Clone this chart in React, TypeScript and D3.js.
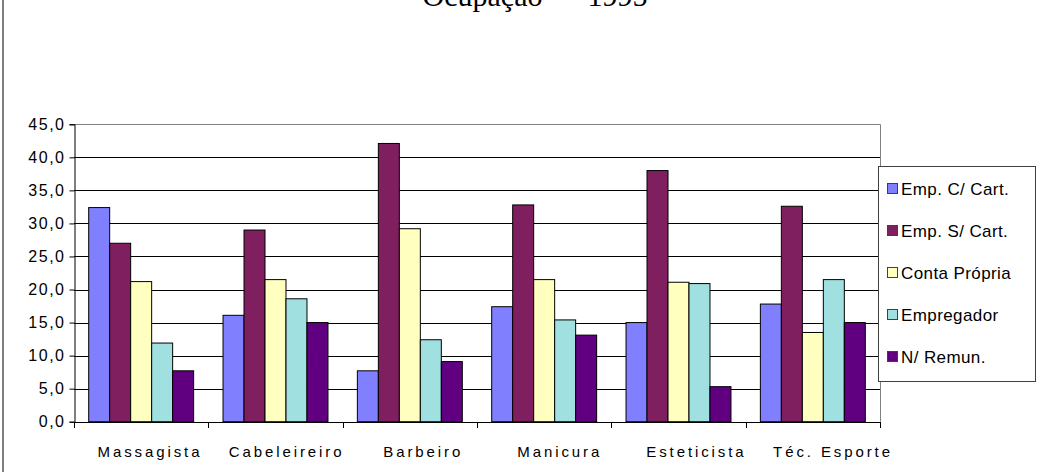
import { useRef, useEffect } from "react";
import * as d3 from "d3";

const categories = ["Massagista", "Cabeleireiro", "Barbeiro", "Manicura", "Esteticista", "Téc. Esporte"];
const seriesNames = ["Emp. C/ Cart.", "Emp. S/ Cart.", "Conta Própria", "Empregador", "N/ Remun."];
const seriesColors = ["#8080ff", "#7f1f5f", "#ffffc0", "#a0e0e0", "#600080"];
// one array per series, in category order
const empComCart = [32.4, 16.1, 7.7, 17.4, 15.0, 17.8];
const empSemCart = [27.0, 29.0, 42.1, 32.8, 38.0, 32.6];
const contaPropria = [21.2, 21.5, 29.2, 21.5, 21.1, 13.5];
const empregador = [11.9, 18.6, 12.4, 15.4, 20.9, 21.5];
const naoRemun = [7.7, 15.0, 9.1, 13.1, 5.3, 15.0];
const yTicks = [0, 5, 10, 15, 20, 25, 30, 35, 40, 45];
const title = "Ocupação — 1995";

const W = 1057;
const H = 472;

export default function App() {
    const svgRef = useRef<SVGSVGElement>(null);

    useEffect(() => {
        if (!svgRef.current) return;
        const svg = d3.select(svgRef.current);
        svg.selectAll("*").remove();

        const values = [empComCart, empSemCart, contaPropria, empregador, naoRemun];
        const plot = { left: 74, right: 880, top: 124.3, bottom: 421.7 };

        const x = d3.scaleBand().domain(categories).range([plot.left, plot.right]).padding(0);
        const xs = d3
            .scaleBand()
            .domain(seriesNames)
            .range([0, x.bandwidth()])
            .paddingInner(0)
            .paddingOuter(0.7);
        const y = d3.scaleLinear().domain([0, 45]).range([plot.bottom, plot.top]);
        // Excel spreads the category labels a bit wider than the bands
        const xLabel = d3.scalePoint().domain(categories).range([150, 833]);

        svg.append("rect").attr("width", W).attr("height", H).attr("fill", "#fff");

        // outer frame (only left edge visible)
        svg.append("line")
            .attr("x1", 3).attr("x2", 3).attr("y1", 0).attr("y2", H)
            .attr("stroke", "#000").attr("stroke-width", 1);

        // title, clipped at the top as in the source
        svg.append("text")
            .attr("x", 535)
            .attr("y", 6)
            .attr("text-anchor", "middle")
            .attr("font-family", "'Liberation Serif', 'Times New Roman', serif")
            .attr("font-size", 30)
            .text(title);

        // gridlines
        svg.append("g")
            .selectAll("line")
            .data(yTicks.filter((t) => t > 0 && t < 45))
            .enter()
            .append("line")
            .attr("x1", plot.left)
            .attr("x2", plot.right)
            .attr("y1", (d) => Math.round(y(d)) + 0.5)
            .attr("y2", (d) => Math.round(y(d)) + 0.5)
            .attr("stroke", "#000");

        // plot border top/right
        svg.append("path")
            .attr("d", `M${plot.left},${Math.round(plot.top) + 0.5}H${plot.right + 0.5}V${plot.bottom}`)
            .attr("fill", "none")
            .attr("stroke", "#808080");

        // bars
        const groups = svg
            .append("g")
            .selectAll("g")
            .data(categories)
            .enter()
            .append("g")
            .attr("transform", (c) => `translate(${x(c)},0)`);

        groups
            .selectAll("rect")
            .data((c, ci) => seriesNames.map((s, si) => ({ s, si, v: values[si][ci] })))
            .enter()
            .append("rect")
            .attr("x", (d) => xs(d.s)!)
            .attr("y", (d) => y(d.v))
            .attr("width", xs.bandwidth())
            .attr("height", (d) => y(0) - y(d.v))
            .attr("fill", (d) => seriesColors[d.si])
            .attr("stroke", "#000")
            .attr("stroke-width", 1);

        // y axis
        const yAxis = svg
            .append("g")
            .attr("transform", `translate(${plot.left + 0.5},0)`)
            .call(d3.axisLeft(y).tickValues(yTicks).tickSize(5).tickPadding(4).tickFormat((d) => d3.format(".1f")(d as number).replace(".", ",")));
        yAxis.select(".domain").attr("stroke", "#000");
        yAxis.selectAll(".tick line").attr("stroke", "#000");
        yAxis.selectAll("text")
            .attr("font-family", "'Liberation Sans', Arial, sans-serif")
            .attr("font-size", 16)
            .attr("letter-spacing", 1.5)
            .attr("fill", "#000");

        // x axis line + tick marks at band edges
        const xAxis = svg.append("g");
        xAxis.append("line")
            .attr("x1", plot.left).attr("x2", plot.right + 0.5)
            .attr("y1", Math.round(plot.bottom) + 0.5).attr("y2", Math.round(plot.bottom) + 0.5)
            .attr("stroke", "#000");
        const edges = categories.map((c) => x(c)!).concat([plot.right]);
        xAxis.selectAll(".tk")
            .data(edges)
            .enter()
            .append("line")
            .attr("x1", (d) => Math.round(d) + 0.5)
            .attr("x2", (d) => Math.round(d) + 0.5)
            .attr("y1", Math.round(plot.bottom))
            .attr("y2", Math.round(plot.bottom) + 6)
            .attr("stroke", "#000");
        xAxis.selectAll("text")
            .data(categories)
            .enter()
            .append("text")
            .attr("x", (c) => xLabel(c)!)
            .attr("y", 457)
            .attr("text-anchor", "middle")
            .attr("font-family", "'Liberation Sans', Arial, sans-serif")
            .attr("font-size", 15)
            .attr("letter-spacing", 2.9)
            .text((c) => c);

        // legend
        const lg = svg.append("g");
        lg.append("rect")
            .attr("x", 878.5).attr("y", 166.5).attr("width", 157).attr("height", 215)
            .attr("fill", "#fff").attr("stroke", "#404040");
        const items = lg.selectAll(".item")
            .data(seriesNames)
            .enter()
            .append("g")
            .attr("transform", (d, i) => `translate(887,${189 + i * 42})`);
        items.append("rect")
            .attr("x", 0.5).attr("y", -5.5).attr("width", 10).attr("height", 10)
            .attr("fill", (d, i) => seriesColors[i])
            .attr("stroke", "#404040");
        items.append("text")
            .attr("x", 14)
            .attr("y", 6)
            .attr("font-family", "'Liberation Sans', Arial, sans-serif")
            .attr("font-size", 17)
            .attr("letter-spacing", 0.4)
            .text((d) => d);
    }, []);

    return (
        <svg
            ref={svgRef}
            width={W}
            height={H}
            style={{ position: "absolute", left: 0, top: 0, display: "block" }}
        />
    );
}
